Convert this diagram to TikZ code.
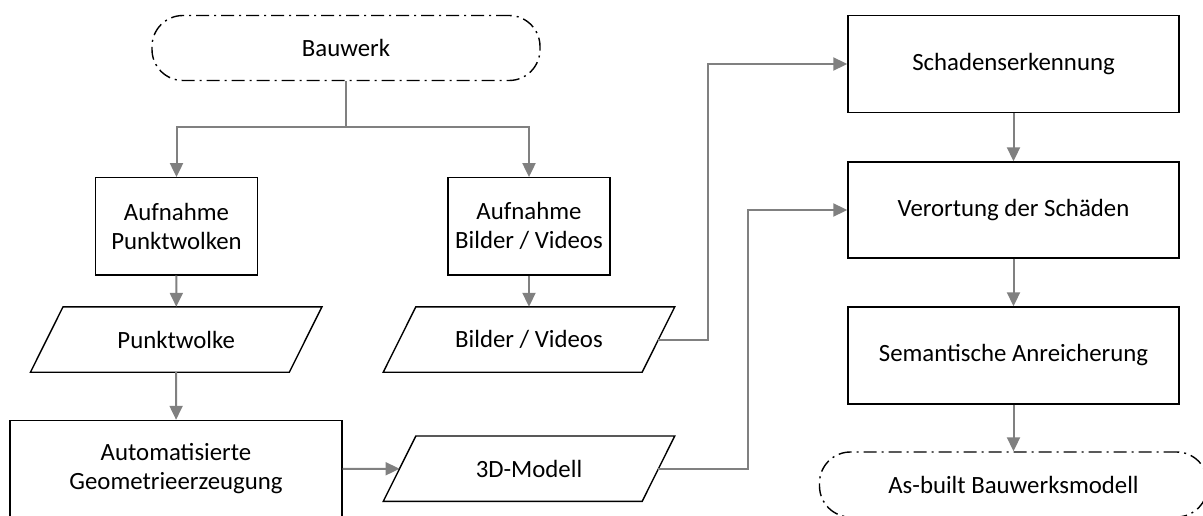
\documentclass[tikz,border=0pt]{standalone}
\usepackage{fontspec}
\setmainfont{Carlito}
\usetikzlibrary{arrows.meta}
\tikzset{
  base/.style={font=\fontsize{24.8}{29}\selectfont, align=center, inner sep=0pt},
  procbox/.style={base, draw=black, line width=1.4pt, rectangle, minimum height=97pt},
  termbox/.style={base, draw=black, line width=1.4pt, rectangle, rounded corners=31pt,
    minimum width=388pt, minimum height=65pt,
    dash pattern=on 13pt off 5pt on 2pt off 5pt},
  databox/.style={base, rectangle, minimum width=258.5pt, minimum height=65pt},
  dataedge/.style={draw=black, line width=1.4pt, line join=miter},
  flow/.style={draw=gray, line width=2pt, -{Triangle[length=14pt,width=13pt]}},
  link/.style={draw=gray, line width=2pt},
}
\begin{document}
\begin{tikzpicture}[x=1pt,y=-1pt]
\useasboundingbox (0,0) rectangle (1203,516);

% terminals
\node[termbox] (bauwerk) at (346,48) {Bauwerk};
\node[termbox] (asbuilt) at (1013.5,484.5) {As-built Bauwerksmodell};

% process steps
\node[procbox, minimum width=162pt] (aufP) at (176.5,226.3) {Aufnahme\\Punktwolken};
\node[procbox, minimum width=162pt] (aufB) at (529,226.3) {Aufnahme\\Bilder / Videos};
\node[procbox, minimum width=332pt] (auto) at (176,469) {Automatisierte\\Geometrieerzeugung};
\node[procbox, minimum width=331pt] (schaden) at (1013.5,64) {Schadenserkennung};
\node[procbox, minimum width=331pt, minimum height=96pt] (verort) at (1013.5,210) {Verortung der Schäden};
\node[procbox, minimum width=331pt] (sem) at (1013.5,355.5) {Semantische Anreicherung};

% data (parallelograms)
\node[databox] (punkt) at (176.2,339.5) {Punktwolke};
\node[databox] (bilder) at (529,339.5) {Bilder / Videos};
\node[databox] (modell) at (529,468.7) {3D-Modell};
\foreach \n in {punkt,bilder,modell}{
  \draw[dataedge] ([xshift=16.3pt]\n.north west) -- ([xshift=16.3pt]\n.north east)
    -- ([xshift=-16.3pt]\n.south east) -- ([xshift=-16.3pt]\n.south west) -- cycle;
}

% connectors
\coordinate (split) at (346,127.5);
\coordinate (bturn) at (708,339.5);
\coordinate (mturn) at (748,468.7);
\draw[link] (bauwerk.south) -- (split);
\draw[flow] (split) -| (aufP.north);
\draw[flow] (split) -| (aufB.north);
\draw[flow] (aufP) -- (punkt);
\draw[flow] (aufB) -- (bilder);
\draw[flow] (punkt) -- (auto);
\draw[flow] (auto.east) -- (modell.west);
\draw[flow] (bilder.east) -- (bturn) |- (schaden.west);
\draw[flow] (modell.east) -- (mturn) |- (verort.west);
\draw[flow] (schaden) -- (verort);
\draw[flow] (verort) -- (sem);
\draw[flow] (sem) -- (asbuilt);
\end{tikzpicture}
\end{document}
